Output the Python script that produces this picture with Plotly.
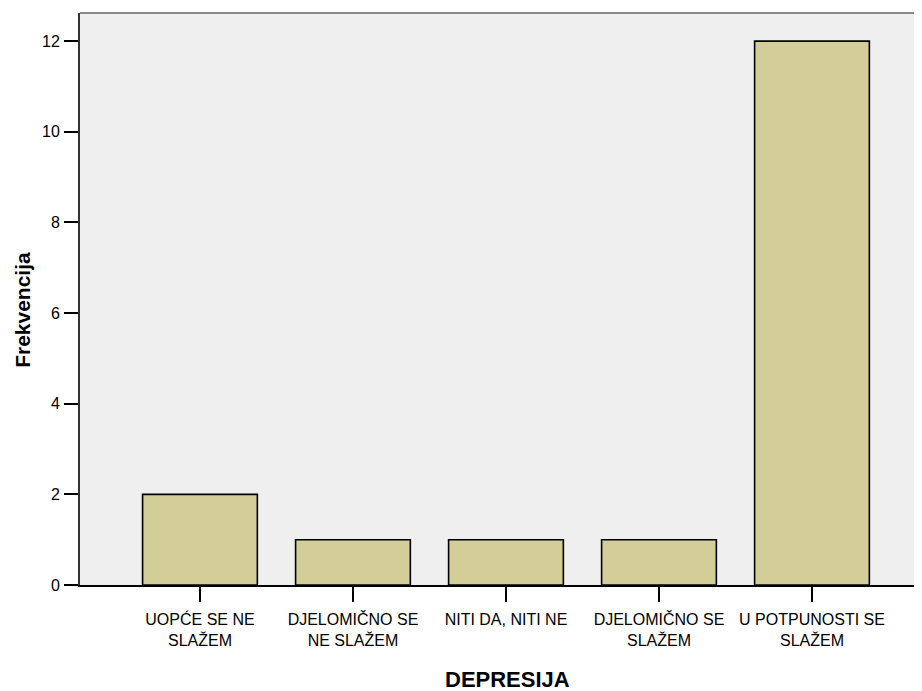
import plotly.graph_objects as go

categories = ["UOPĆE SE NE<br>SLAŽEM", "DJELOMIČNO SE<br>NE SLAŽEM", "NITI DA, NITI NE",
              "DJELOMIČNO SE<br>SLAŽEM", "U POTPUNOSTI SE<br>SLAŽEM"]
values = [2, 1, 1, 1, 12]
y_ticks = [0, 2, 4, 6, 8, 10, 12]

fig = go.Figure()
fig.add_trace(go.Bar(
    x=list(range(len(categories))), y=values, width=0.75,
    marker=dict(color="#d3ce97", line=dict(color="#000000", width=1.6)),
))

fig.update_layout(
    width=914, height=683,
    margin=dict(l=72, r=0, t=5, b=106),
    paper_bgcolor="white", plot_bgcolor="#efefef",
    showlegend=False,
    font=dict(family="Liberation Sans, Arial", size=16, color="#000"),
    xaxis=dict(
        range=[-0.784, 4.719], tickmode="array", tickvals=list(range(len(categories))),
        ticktext=categories, ticks="outside", ticklen=15, tickwidth=2, tickcolor="#000",
        showline=True, linecolor="#000", linewidth=1.5, showgrid=False, zeroline=False,
        tickfont=dict(size=16), ticklabelstandoff=4,
    ),
    yaxis=dict(
        range=[0, 12.62], tickmode="array", tickvals=y_ticks,
        ticks="outside", ticklen=14, tickwidth=2, tickcolor="#000",
        showline=True, linecolor="#333", linewidth=2, showgrid=False, zeroline=False,
        tickfont=dict(size=16), ticklabelstandoff=1,
    ),
    shapes=[dict(type="line", xref="paper", yref="paper", x0=0, x1=1, y0=1, y1=1,
                 line=dict(color="#666", width=1.5))],
    annotations=[
        dict(text="<b>DEPRESIJA</b>", xref="x", yref="paper", x=2.01, y=-0.166,
             yanchor="middle", showarrow=False, font=dict(size=22)),
        dict(text="<b>Frekvencija</b>", xref="paper", yref="paper", x=-0.0677, y=0.481,
             textangle=-90, xanchor="center", yanchor="middle", showarrow=False,
             font=dict(size=21)),
    ],
)

fig.write_html("out.html")
